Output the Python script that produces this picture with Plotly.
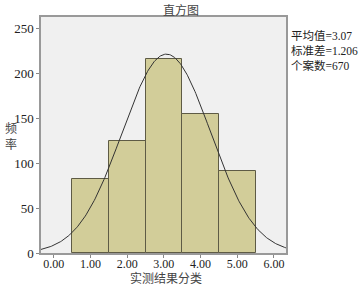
import numpy as np
import plotly.graph_objects as go

bin_centers = [1, 2, 3, 4, 5]
counts = [83, 125, 216, 155, 91]
mean_val = 3.07
std_val = 1.206
n_cases = 670
x_ticks = [0, 1, 2, 3, 4, 5, 6]
x_tick_labels = ["0.00", "1.00", "2.00", "3.00", "4.00", "5.00", "6.00"]
y_ticks = [0, 50, 100, 150, 200, 250]

FONT = "Liberation Serif, 'Times New Roman', 'Noto Sans CJK SC', serif"

W, H = 359, 285
L, R, T, B = 41, 286, 17, 253
PW, PH = R - L, B - T

def px(x):
    return (x - L) / PW

def py(y):
    return 1 - (y - T) / PH

xr = [-0.35, 6.33]
xc = np.linspace(xr[0], xr[1], 300)
yc = n_cases * 1.0 / (std_val * np.sqrt(2 * np.pi)) * np.exp(-0.5 * ((xc - mean_val) / std_val) ** 2)

fig = go.Figure()
fig.add_trace(go.Bar(x=bin_centers, y=counts, width=1.0,
                     marker=dict(color="#D2CD99", line=dict(color="#5E5B45", width=1)),
                     showlegend=False))
fig.add_trace(go.Scatter(x=xc, y=yc, mode="lines", line=dict(color="#333333", width=1),
                         showlegend=False))

fig.update_layout(
    width=W, height=H,
    margin=dict(l=L, r=W - R, t=T, b=H - B, autoexpand=False),
    paper_bgcolor="white", plot_bgcolor="#F0F0F0",
    font=dict(family=FONT, size=13, color="#222222"),
    bargap=0,
)
fig.update_xaxes(range=xr, tickvals=x_ticks, ticktext=x_tick_labels, ticks="outside",
                 ticklen=3, tickcolor="#888888", showgrid=False, zeroline=False,
                 showline=True, linecolor="#999999", linewidth=1.5, mirror=True,
                 automargin=False, ticklabelstandoff=-4, tickfont=dict(size=12))
fig.update_yaxes(range=[0, 263], tickvals=y_ticks, ticks="outside", ticklen=3,
                 tickcolor="#888888", showgrid=False, zeroline=False,
                 showline=True, linecolor="#999999", linewidth=1.5, mirror=True,
                 automargin=False)

# title
fig.add_annotation(text="直方图", x=px(181), y=py(10), xref="paper", yref="paper",
                   showarrow=False, xanchor="center", yanchor="middle",
                   font=dict(size=12, color="#444444"))
# x-axis title
fig.add_annotation(text="实测结果分类", x=px(166), y=py(278), xref="paper", yref="paper",
                   showarrow=False, xanchor="center", yanchor="middle",
                   font=dict(size=12, color="#444444"))
# y-axis title (stacked characters)
fig.add_annotation(text="频<br>率", x=px(11), y=py(137), xref="paper", yref="paper",
                   showarrow=False, xanchor="center", yanchor="middle",
                   font=dict(size=12, color="#444444"), align="center")

fig.add_annotation(text=f"平均值={mean_val:.2f}<br>标准差={std_val:.3f}<br>个案数={n_cases}",
                   xref="paper", yref="paper", x=px(289), y=py(28),
                   xanchor="left", yanchor="top", showarrow=False, align="left",
                   font=dict(size=11.5, color="#222222"))

fig.write_html("out.html", config={"displayModeBar": False},
               post_script="document.body.style.margin='0';document.body.style.padding='0';")
